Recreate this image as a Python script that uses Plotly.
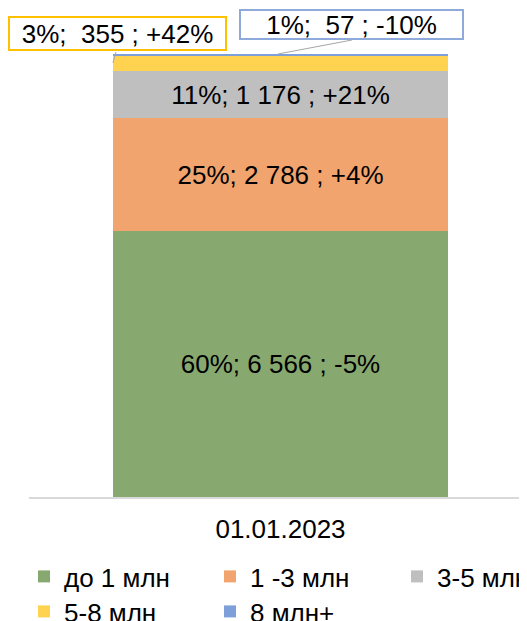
import plotly.graph_objects as go

categories = ["до 1 млн", "1 -3 млн", "3-5 млн", "5-8 млн", "8 млн+"]
values = [6566, 2786, 1176, 355, 57]
shares = [60, 25, 11, 3, 1]
changes = [-5, 4, 21, 42, -10]
period = "01.01.2023"

colors = ["#87A96F", "#F1A46E", "#BFBFBF", "#FFD34F", "#7DA0D8"]
legend_ids = ["legend", "legend", "legend2", "legend3", "legend3"]
FONT = "Liberation Sans, Arial, sans-serif"


def fmt_num(v):
    s = f"{v:,}".replace(",", " ")
    return s if v >= 1000 else " " + s


labels = [f"{s}%; {fmt_num(v)} ; {c:+d}%" for s, v, c in zip(shares, values, changes)]
total = sum(values)

fig = go.Figure()
for i, (cat, v) in enumerate(zip(categories, values)):
    inside = i < 3
    fig.add_trace(go.Bar(
        x=[0], y=[v], width=1, name=cat,
        marker=dict(color=colors[i], line=dict(width=0)),
        text=[labels[i]] if inside else None,
        textposition="inside" if inside else "none",
        insidetextanchor="middle",
        textangle=0,
        textfont=dict(color="#000000", size=26, family=FONT),
        legend=legend_ids[i],
        hoverinfo="name+y",
    ))

# cumulative tops
tops = []
acc = 0
for v in values:
    acc += v
    tops.append(acc)

# figure is placed by the page with an 8px body margin
FIG_W, FIG_H = 519, 613
PLOT_BOTTOM = 489
BAR_TOP_PX = 46
ymax = total * PLOT_BOTTOM / (PLOT_BOTTOM - BAR_TOP_PX)

annotations = [
    dict(x=0, y=tops[3], xref="x", yref="y", text=labels[3], showarrow=False,
         xanchor="center", yanchor="middle", xshift=-163, yshift=22.5,
         width=215, height=31, borderpad=0, borderwidth=2, bordercolor="#FFC000",
         bgcolor="#FFFFFF", font=dict(size=26, color="#000000", family=FONT)),
    dict(x=0, y=tops[4], xref="x", yref="y", text=labels[4], showarrow=False,
         xanchor="center", yanchor="middle", xshift=71, yshift=29.5,
         width=221, height=27, borderpad=0, borderwidth=2, bordercolor="#8EAADB",
         bgcolor="#FFFFFF", font=dict(size=26, color="#000000", family=FONT)),
]

shapes = [
    dict(type="line", xref="x", yref="y", xsizemode="pixel", ysizemode="pixel",
         xanchor=-0.5, yanchor=tops[3], x0=0, y0=-6.7, x1=3, y1=4.3,
         line=dict(color="#A6A6A6", width=1)),
    dict(type="line", xref="x", yref="y", xsizemode="pixel", ysizemode="pixel",
         xanchor=0, yanchor=tops[4], x0=-2.5, y0=0, x1=71.5, y1=14,
         line=dict(color="#A6A6A6", width=1)),
]

legend_common = dict(orientation="h", xanchor="left", yanchor="top",
                     font=dict(size=26, color="#000000", family=FONT),
                     bgcolor="rgba(0,0,0,0)", traceorder="normal")
fixed_entry = dict(entrywidth=141, entrywidthmode="pixels")

fig.update_layout(
    width=FIG_W, height=FIG_H,
    margin=dict(l=21, r=0, t=0, b=FIG_H - PLOT_BOTTOM, autoexpand=False),
    paper_bgcolor="#FFFFFF", plot_bgcolor="#FFFFFF",
    barmode="stack", bargap=0,
    font=dict(family=FONT, size=26, color="#000000"),
    xaxis=dict(range=[-0.7507, 0.7358], tickvals=[0], ticktext=[period],
               showline=True, linecolor="#D9D9D9", linewidth=2,
               showgrid=False, zeroline=False, ticks="", ticklabelstandoff=8,
               tickfont=dict(size=26, color="#000000", family=FONT),
               fixedrange=True),
    yaxis=dict(range=[0, ymax], visible=False, showgrid=False, zeroline=False,
               fixedrange=True),
    showlegend=True,
    legend=dict(x=-0.01, y=-0.1145, **legend_common, **fixed_entry),
    legend2=dict(x=0.739, y=-0.1145, **legend_common),
    legend3=dict(x=-0.01, y=-0.1861, **legend_common, **fixed_entry),
    annotations=annotations,
    shapes=shapes,
)

fig.write_html("out.html")
